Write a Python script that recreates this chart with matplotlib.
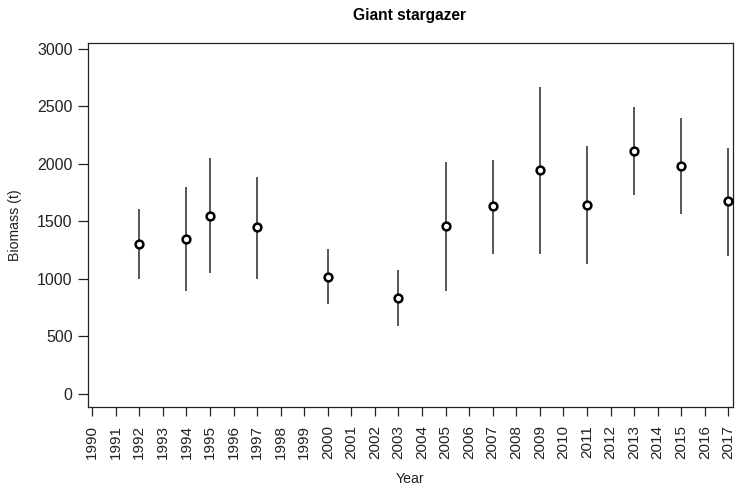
import matplotlib
matplotlib.use("Agg")
import matplotlib.pyplot as plt

plt.rcParams['font.family'] = ['Liberation Sans', 'DejaVu Sans']

years = [1992, 1994, 1995, 1997, 2000, 2003, 2005, 2007, 2009, 2011, 2013, 2015, 2017]
biomass = [1300, 1350, 1550, 1450, 1020, 830, 1460, 1630, 1950, 1645, 2115, 1985, 1680]
lower = [1000, 890, 1050, 1000, 780, 590, 890, 1220, 1220, 1130, 1730, 1560, 1200]
upper = [1605, 1800, 2050, 1890, 1260, 1080, 2020, 2035, 2670, 2155, 2495, 2400, 2140]

all_years = list(range(1990, 2018))
y_ticks = [0, 500, 1000, 1500, 2000, 2500, 3000]

ink = '#222222'

fig = plt.figure(figsize=(7.37, 4.92), dpi=100)
ax = fig.add_axes([0.1194, 0.1734, 0.8752, 0.7398])

ax.vlines(years, lower, upper, color='#3a3a3a', lw=1.2, zorder=2)
ax.plot(years, biomass, 'o', ms=5.6, mfc='white', mec='black', mew=1.8, zorder=3)

ax.set_xlim(1989.82, 2017.2)
ax.set_ylim(-113, 3055)
ax.set_xticks(all_years)
ax.set_xticklabels([str(y) for y in all_years], rotation=90, fontsize=11, color=ink)
ax.set_yticks(y_ticks)
ax.set_yticklabels([str(v) for v in y_ticks], fontsize=11.5, color=ink)
ax.tick_params(axis='y', length=7, width=0.9, color=ink, pad=4)
ax.tick_params(axis='x', length=6.5, width=0.9, color=ink, pad=7)
for s in ax.spines.values():
    s.set_color(ink)
    s.set_linewidth(0.9)

ax.set_xlabel('Year', fontsize=10.2, color=ink, labelpad=9)
ax.set_ylabel('Biomass (t)', fontsize=10.2, color=ink, labelpad=11)
fig.text(0.556, 0.968, 'Giant stargazer', ha='center', va='center',
         fontsize=11.2, fontweight='bold', color='black')

fig.savefig('out.png', dpi=100)
